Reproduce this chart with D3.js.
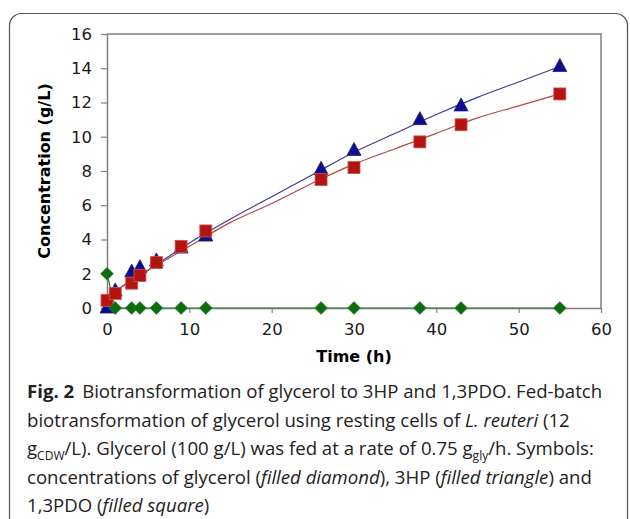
<!DOCTYPE html>
<html>
<head>
<meta charset="utf-8">
<script src="https://cdn.jsdelivr.net/npm/d3@7"></script>
<style>
  body { margin: 0; background: #fff; }
  svg { display: block; }
  .tick text { font-family: "DejaVu Sans", sans-serif; font-size: 16.5px; fill: #1a1a1a; }
  .cap { font-family: "Open Sans", sans-serif; font-size: 18.6px; fill: #222; }
</style>
</head>
<body>
<div id="chart"></div>
<script>
// measured points
var time = [0, 1, 3, 4, 6, 9, 12, 26, 30, 38, 43, 55];
var glycerol = [2.0, 0, 0, 0, 0, 0, 0, 0, 0, 0, 0, 0];
var hp3 = [0, 1.0, 2.1, 2.35, 2.75, 3.5, 4.2, 8.1, 9.2, 11.0, 11.8, 14.1];
var pdo = [0.45, 0.85, 1.45, 1.9, 2.65, 3.6, 4.5, 7.5, 8.2, 9.7, 10.7, 12.5];

// trend lines
var fitTime = [0, 5, 10, 15, 20, 25, 30, 35, 40, 45, 50, 55];
var fit3hp = [0.7, 2.2, 3.8, 5.2, 6.5, 7.8, 9.1, 10.2, 11.3, 12.3, 13.2, 14.1];
var fitPdo = [0.7, 2.2, 3.6, 5.0, 6.1, 7.3, 8.4, 9.3, 10.2, 11.1, 11.8, 12.5];

var xTicks = [0, 10, 20, 30, 40, 50, 60];
var yTicks = [0, 2, 4, 6, 8, 10, 12, 14, 16];

var svgWidth = 630;
var svgHeight = 519;

var margin = { top: 34, right: 29, bottom: 211, left: 107 };
var width = svgWidth - margin.left - margin.right;
var height = svgHeight - margin.top - margin.bottom;

var svg = d3.select("#chart")
  .append("svg")
  .attr("width", svgWidth)
  .attr("height", svgHeight);

// outer rounded frame
svg.append("rect")
  .attr("x", 9.5)
  .attr("y", 13.5)
  .attr("width", 618)
  .attr("height", 530)
  .attr("rx", 12)
  .attr("fill", "none")
  .attr("stroke", "#555")
  .attr("stroke-width", 1.2);

var chartGroup = svg.append("g")
  .attr("transform", `translate(${margin.left}, ${margin.top})`);

var xScale = d3.scaleLinear().domain([0, 60]).range([0, width]);
var yScale = d3.scaleLinear().domain([0, 16]).range([height, 0]);

// plot frame (top and right)
chartGroup.append("path")
  .attr("d", `M0,0H${width}V${height}`)
  .attr("fill", "none")
  .attr("stroke", "#808080")
  .attr("stroke-width", 1.5);

var bottomAxis = d3.axisBottom(xScale).tickValues(xTicks).tickSize(5).tickSizeOuter(0).tickPadding(10);
var leftAxis = d3.axisLeft(yScale).tickValues(yTicks).tickSize(6).tickSizeOuter(0).tickPadding(9);

var gx = chartGroup.append("g")
  .attr("transform", `translate(0, ${height})`)
  .call(bottomAxis);
var gy = chartGroup.append("g").call(leftAxis);

[gx, gy].forEach(function(g) {
  g.selectAll(".domain").attr("stroke", "#808080").attr("stroke-width", 1.5);
  g.selectAll(".tick line").attr("stroke", "#808080").attr("stroke-width", 1.2);
});

// lines
var fitLine = function(vals) {
  return d3.line()
    .x((d, i) => xScale(fitTime[i]))
    .y((d, i) => yScale(vals[i]))
    .curve(d3.curveMonotoneX)(vals);
};

chartGroup.append("path")
  .attr("d", d3.line().x((d, i) => xScale(time[i])).y(d => yScale(d))(glycerol))
  .attr("fill", "none")
  .attr("stroke", "#2e7d2e")
  .attr("stroke-width", 1.2);

chartGroup.append("path")
  .attr("d", fitLine(fit3hp))
  .attr("fill", "none")
  .attr("stroke", "#3b3b91")
  .attr("stroke-width", 1.2);

chartGroup.append("path")
  .attr("d", fitLine(fitPdo))
  .attr("fill", "none")
  .attr("stroke", "#b24848")
  .attr("stroke-width", 1.2);

// markers
chartGroup.selectAll(".tri")
  .data(hp3)
  .enter()
  .append("path")
  .attr("class", "tri")
  .attr("transform", (d, i) => `translate(${xScale(time[i])}, ${yScale(d)})`)
  .attr("d", "M0,-8L7,5L-7,5Z")
  .attr("fill", "#0d0d8f")
  .attr("stroke", "#1c1c6e")
  .attr("stroke-width", 0.8);

chartGroup.selectAll(".sq")
  .data(pdo)
  .enter()
  .append("rect")
  .attr("class", "sq")
  .attr("x", (d, i) => xScale(time[i]) - 6)
  .attr("y", d => yScale(d) - 6)
  .attr("width", 12)
  .attr("height", 12)
  .attr("fill", "#b3140f")
  .attr("stroke", "#cc5555")
  .attr("stroke-width", 0.8);

chartGroup.selectAll(".dia")
  .data(glycerol)
  .enter()
  .append("path")
  .attr("class", "dia")
  .attr("transform", (d, i) => `translate(${xScale(time[i])}, ${yScale(d)})`)
  .attr("d", "M0,-6.5L6.5,0L0,6.5L-6.5,0Z")
  .attr("fill", "#0f6b0f")
  .attr("stroke", "#3a8a3a")
  .attr("stroke-width", 0.6);

// axis titles
chartGroup.append("text")
  .attr("transform", "rotate(-90)")
  .attr("x", -height / 2)
  .attr("y", -margin.left + 50)
  .attr("text-anchor", "middle")
  .style("font-family", "DejaVu Sans, sans-serif")
  .style("font-weight", "bold")
  .style("font-size", "16px")
  .text("Concentration (g/L)");

chartGroup.append("text")
  .attr("x", width / 2)
  .attr("y", height + 54)
  .attr("text-anchor", "middle")
  .style("font-family", "DejaVu Sans, sans-serif")
  .style("font-weight", "bold")
  .style("font-size", "16px")
  .text("Time (h)");

// caption
var cap = svg.append("text").attr("class", "cap");
var l1 = cap.append("tspan").attr("x", 27).attr("y", 398);
l1.append("tspan").style("font-weight", "bold").text("Fig. 2");
l1.append("tspan").attr("dx", 8).text("Biotransformation of glycerol to 3HP and 1,3PDO. Fed-batch");

var l2 = cap.append("tspan").attr("x", 27).attr("y", 427);
l2.append("tspan").text("biotransformation of glycerol using resting cells of ");
l2.append("tspan").style("font-style", "italic").text("L. reuteri");
l2.append("tspan").text(" (12");

var l3 = cap.append("tspan").attr("x", 27).attr("y", 455);
l3.append("tspan").text("g");
l3.append("tspan").attr("dy", 5).style("font-size", "12px").text("CDW");
l3.append("tspan").attr("dy", -5).text("/L). Glycerol (100 g/L) was fed at a rate of 0.75 g");
l3.append("tspan").attr("dy", 5).style("font-size", "12px").text("gly");
l3.append("tspan").attr("dy", -5).text("/h. Symbols:");

var l4 = cap.append("tspan").attr("x", 27).attr("y", 484);
l4.append("tspan").text("concentrations of glycerol (");
l4.append("tspan").style("font-style", "italic").text("filled diamond");
l4.append("tspan").text("), 3HP (");
l4.append("tspan").style("font-style", "italic").text("filled triangle");
l4.append("tspan").text(") and");

var l5 = cap.append("tspan").attr("x", 27).attr("y", 512);
l5.append("tspan").text("1,3PDO (");
l5.append("tspan").style("font-style", "italic").text("filled square");
l5.append("tspan").text(")");
</script>
</body>
</html>
